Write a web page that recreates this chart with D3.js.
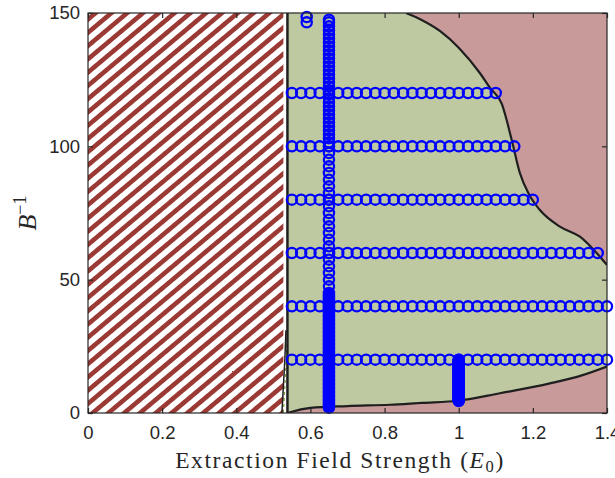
<!DOCTYPE html>
<html>
<head>
<meta charset="utf-8">
<script src="https://cdn.jsdelivr.net/npm/d3@7"></script>
<style>
  html, body { margin: 0; padding: 0; background: #fff; }
  svg { display: block; }
</style>
</head>
<body>
<svg id="chart" width="615" height="478"></svg>
<script>
// ---- data ----
const xTicks = [0, 0.2, 0.4, 0.6, 0.8, 1, 1.2, 1.4];
const xTickLabels = ["0", "0.2", "0.4", "0.6", "0.8", "1", "1.2", "1.4"];
const yTicks = [0, 50, 100, 150];
const yTickLabels = ["0", "50", "100", "150"];

// forbidden (hatched) region and its edge
const hatchRight = 0.527;
const wallX = 0.538;
const wallFoot = [[0.523, 0], [0.527, 10], [0.531, 20], [0.534, 31]];

// upper boundary of the stable region (E0, B^-1)
const upperBoundary = [
  [0.858, 150], [0.9, 147.4], [0.95, 143.2], [1.0, 137], [1.057, 127.5],
  [1.084, 122], [1.116, 116], [1.143, 102.4], [1.165, 90], [1.188, 82.4],
  [1.219, 76.1], [1.273, 69.9], [1.327, 66.1], [1.381, 58.6], [1.4, 55.5]
];
// lower boundary of the stable region
const lowerBoundary = [
  [0.538, 0], [0.545, 0.3], [0.6, 1.9], [0.7, 2.6], [0.815, 3.1],
  [0.9, 3.8], [1.0, 4.6], [1.111, 7.4], [1.246, 11.1], [1.33, 14], [1.4, 17.4]
];

// scanned field values
const scanX = [0.55, 0.575, 0.6, 0.625, 0.65, 0.675, 0.7, 0.725, 0.75, 0.775,
  0.8, 0.825, 0.85, 0.875, 0.9, 0.925, 0.95, 0.975, 1, 1.025, 1.05, 1.075,
  1.1, 1.125, 1.15, 1.175, 1.2, 1.225, 1.25, 1.275, 1.3, 1.325, 1.35, 1.375, 1.4];
const rowB = [20, 40, 60, 80, 100, 120];
const rowLastX = [1.4, 1.4, 1.375, 1.2, 1.15, 1.1];

const columnX = 0.65;
const columnB = [
  2, 2.5, 3, 3.5, 4, 4.5, 5, 5.5, 6, 6.5, 7, 7.5, 8, 8.5, 9, 9.5, 10, 10.5, 11, 11.5,
  12, 12.5, 13, 13.5, 14, 14.5, 15, 15.5, 16, 16.5, 17, 17.5, 18, 18.5, 19, 19.5,
  20, 20.5, 21, 21.5, 22, 22.5, 23, 23.5, 24, 24.5, 25, 25.5, 26, 26.5, 27, 27.5,
  28, 28.5, 29, 29.5, 30, 30.5, 31, 31.5, 32, 32.5, 33, 33.5, 34, 34.5, 35, 35.5,
  36, 36.5, 37, 37.5, 38, 38.5, 39, 39.5, 40, 40.5, 41, 41.5, 42, 42.5, 43, 43.5,
  44, 44.5, 45,
  47.5, 50, 52.5, 55, 57.5, 60, 62.5, 65, 67.5, 70, 72.5, 75, 77.5, 80,
  82.5, 85, 87.5, 90, 92.5, 95, 97.5, 100,
  101.5, 103, 104.5, 106, 107.5, 109, 110.5, 112, 113.5, 115, 116.5, 118, 119.5,
  121, 122.5, 124, 125.5, 127, 128.5, 130, 131.5, 133, 134.5, 136, 137.5, 139,
  140.5, 142, 143.5, 145, 146.5, 147.5
];

const column2X = 1.0;
const column2B = [4.5, 4.75, 5, 5.25, 5.5, 5.75, 6, 6.25, 6.5, 6.75, 7, 7.25, 7.5,
  7.75, 8, 8.25, 8.5, 8.75, 9, 9.25, 9.5, 9.75, 10, 10.25, 10.5, 10.75, 11, 11.25,
  11.5, 11.75, 12, 12.25, 12.5, 12.75, 13, 13.25, 13.5, 13.75, 14, 14.25, 14.5,
  14.75, 15, 15.25, 15.5, 15.75, 16, 16.25, 16.5, 16.75, 17, 17.25, 17.5, 17.75,
  18, 18.25, 18.5, 18.75, 19, 19.25, 19.5, 19.75, 20];

const extraX = [0.59, 0.59];
const extraB = [148.5, 146.5];

// ---- layout ----
const margin = { left: 88, right: 8, top: 13, bottom: 65 };
const W = 615, H = 478;
const x = d3.scaleLinear().domain([0, 1.4]).range([margin.left, W - margin.right]);
const y = d3.scaleLinear().domain([0, 150]).range([H - margin.bottom, margin.top]);

const svg = d3.select("#chart");
const defs = svg.append("defs");

defs.append("clipPath").attr("id", "plotClip")
  .append("rect")
  .attr("x", x(0)).attr("y", y(150))
  .attr("width", x(1.4) - x(0)).attr("height", y(0) - y(150));

const pat = defs.append("pattern")
  .attr("id", "hatch")
  .attr("patternUnits", "userSpaceOnUse")
  .attr("width", 10.15).attr("height", 10.15)
  .attr("patternTransform", "translate(92,13) rotate(50)");
pat.append("rect").attr("width", 10.15).attr("height", 10.15).attr("fill", "#ffffff");
pat.append("rect").attr("x", 0).attr("width", 4.6).attr("height", 10.15).attr("fill", "#9b3934");

const plot = svg.append("g").attr("clip-path", "url(#plotClip)");

// hatched forbidden region
plot.append("rect")
  .attr("x", x(0)).attr("y", y(150))
  .attr("width", x(hatchRight) - x(0)).attr("height", y(0) - y(150))
  .attr("fill", "url(#hatch)");

// unstable region
plot.append("rect")
  .attr("x", x(wallX)).attr("y", y(150))
  .attr("width", x(1.4) - x(wallX)).attr("height", y(0) - y(150))
  .attr("fill", "#c99a9a");

// stable region
const line = d3.line().x(d => x(d[0])).y(d => y(d[1])).curve(d3.curveMonotoneX);
const upperPath = line(upperBoundary);
const lowerRev = lowerBoundary.slice().reverse();
const areaTop = "M" + x(wallX) + "," + y(150) + "L" + upperPath.slice(1);
const areaBottom = line(lowerRev).replace(/^M/, "L");
plot.append("path")
  .attr("d", areaTop + areaBottom + "Z")
  .attr("fill", "#bec9a1");

// sliver at the foot of the wall
plot.append("path")
  .attr("d", d3.line().x(d => x(d[0] + 0.004)).y(d => y(d[1]))(wallFoot))
  .attr("fill", "none").attr("stroke", "#7d9a3a").attr("stroke-width", 1.2)
  .attr("stroke-dasharray", "3,3");
plot.append("path")
  .attr("d", d3.line().x(d => x(d[0])).y(d => y(d[1]))(wallFoot))
  .attr("fill", "none").attr("stroke", "#1f1f1f").attr("stroke-width", 1.5);

// boundaries
plot.append("line")
  .attr("x1", x(wallX)).attr("x2", x(wallX))
  .attr("y1", y(0)).attr("y2", y(150))
  .attr("stroke", "#1f1f1f").attr("stroke-width", 2.5);
plot.append("path").attr("d", upperPath)
  .attr("fill", "none").attr("stroke", "#1f1f1f").attr("stroke-width", 2.2);
plot.append("path").attr("d", line(lowerBoundary))
  .attr("fill", "none").attr("stroke", "#1f1f1f").attr("stroke-width", 2.2);

// scan points
const points = [];
rowB.forEach((b, i) => {
  scanX.filter(v => v <= rowLastX[i] + 1e-9).forEach(v => points.push([v, b]));
});
columnB.forEach(b => points.push([columnX, b]));
column2B.forEach(b => points.push([column2X, b]));
extraX.forEach((v, i) => points.push([v, extraB[i]]));

svg.append("g").selectAll("circle").data(points).join("circle")
  .attr("cx", d => x(d[0])).attr("cy", d => y(d[1]))
  .attr("r", 5.1)
  .attr("fill", "none").attr("stroke", "#0000ff").attr("stroke-width", 2.3);

// axes box and ticks
const axisColor = "#262626";
const tickLen = 5;
const axes = svg.append("g");
axes.append("rect")
  .attr("x", x(0)).attr("y", y(150))
  .attr("width", x(1.4) - x(0)).attr("height", y(0) - y(150))
  .attr("fill", "none").attr("stroke", axisColor).attr("stroke-width", 1.2);

const xb = axes.append("g").attr("transform", `translate(0,${y(0)})`)
  .call(d3.axisBottom(x).tickValues(xTicks).tickSize(-tickLen)
    .tickFormat((d, i) => xTickLabels[i]).tickPadding(13));
const xt = axes.append("g").attr("transform", `translate(0,${y(150)})`)
  .call(d3.axisTop(x).tickValues(xTicks).tickSize(-tickLen).tickFormat(""));
const yl = axes.append("g").attr("transform", `translate(${x(0)},0)`)
  .call(d3.axisLeft(y).tickValues(yTicks).tickSize(-tickLen)
    .tickFormat((d, i) => yTickLabels[i]).tickPadding(8));
const yr = axes.append("g").attr("transform", `translate(${x(1.4)},0)`)
  .call(d3.axisRight(y).tickValues(yTicks).tickSize(-tickLen).tickFormat(""));

[xb, xt, yl, yr].forEach(g => {
  g.select(".domain").remove();
  g.selectAll(".tick line").attr("stroke", axisColor).attr("stroke-width", 1.2);
  g.selectAll("text").attr("fill", "#262626")
    .style("font-family", "'Liberation Sans', Arial, sans-serif")
    .style("font-size", "18.5px");
});

// axis titles
const xTitle = svg.append("text")
  .attr("x", 340).attr("y", 468)
  .attr("text-anchor", "middle")
  .attr("fill", "#262626")
  .style("font-family", "'Liberation Serif', 'DejaVu Serif', serif")
  .style("font-size", "23.5px")
  .style("letter-spacing", "1.6px");
xTitle.append("tspan").text("Extraction Field Strength (");
xTitle.append("tspan").style("font-style", "italic").text("E");
xTitle.append("tspan").attr("dy", 4).style("font-size", "16.5px").text("0");
xTitle.append("tspan").attr("dy", -4).text(")");

const yTitle = svg.append("text")
  .attr("transform", "translate(36,213) rotate(-90)")
  .attr("text-anchor", "middle")
  .attr("fill", "#262626")
  .style("font-family", "'Liberation Serif', 'DejaVu Serif', serif")
  .style("font-size", "26px");
yTitle.append("tspan").style("font-style", "italic").text("B");
yTitle.append("tspan").attr("dy", -10).style("font-size", "18px").text("\u22121");
</script>
</body>
</html>
